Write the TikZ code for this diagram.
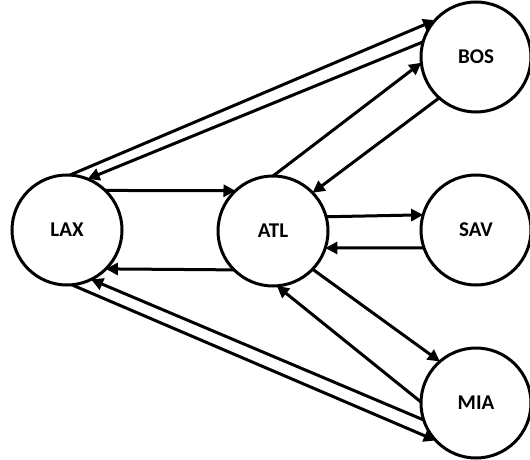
\documentclass[tikz,border=0pt]{standalone}
\usepackage{fontspec}
\setmainfont{Carlito}
\usetikzlibrary{arrows.meta}

\begin{document}
\begin{tikzpicture}[x=1pt,y=-1pt,
  airport/.style={circle, draw, line width=3pt, minimum size=110pt,
    inner sep=0pt, outer sep=0pt, fill=white,
    font=\fontsize{21}{25}\selectfont\bfseries},
  route/.style={line width=3pt, -{Triangle[length=12pt,width=12pt]}}
]
\path[use as bounding box] (0,0) rectangle (530,460);

% airports
\node[airport] (LAX) at (67,230) {LAX};
\node[airport] (ATL) at (273,231) {ATL};
\node[airport] (BOS) at (476,57) {BOS};
\node[airport] (SAV) at (476,230) {SAV};
\node[airport] (MIA) at (476,403) {MIA};

% LAX <-> BOS
\draw[route] (LAX.87) -- (BOS.138);
\draw[route] (BOS.164) -- (LAX.68);
% LAX <-> ATL
\draw[route] (LAX.46.5) -- (ATL.133.5);
\draw[route] (ATL.-135) -- (LAX.-45);
% ATL <-> BOS
\draw[route] (ATL.90) -- (BOS.186);
\draw[route] (BOS.228.5) -- (ATL.44);
% ATL <-> SAV
\draw[route] (ATL.15.5) -- (SAV.164.5);
\draw[route] (SAV.199) -- (ATL.-18.5);
% ATL <-> MIA
\draw[route] (ATL.-44) -- (MIA.131);
\draw[route] (MIA.179) -- (ATL.-86);
% LAX <-> MIA
\draw[route] (LAX.-85) -- (MIA.223.5);
\draw[route] (MIA.198) -- (LAX.-64);
\end{tikzpicture}
\end{document}
